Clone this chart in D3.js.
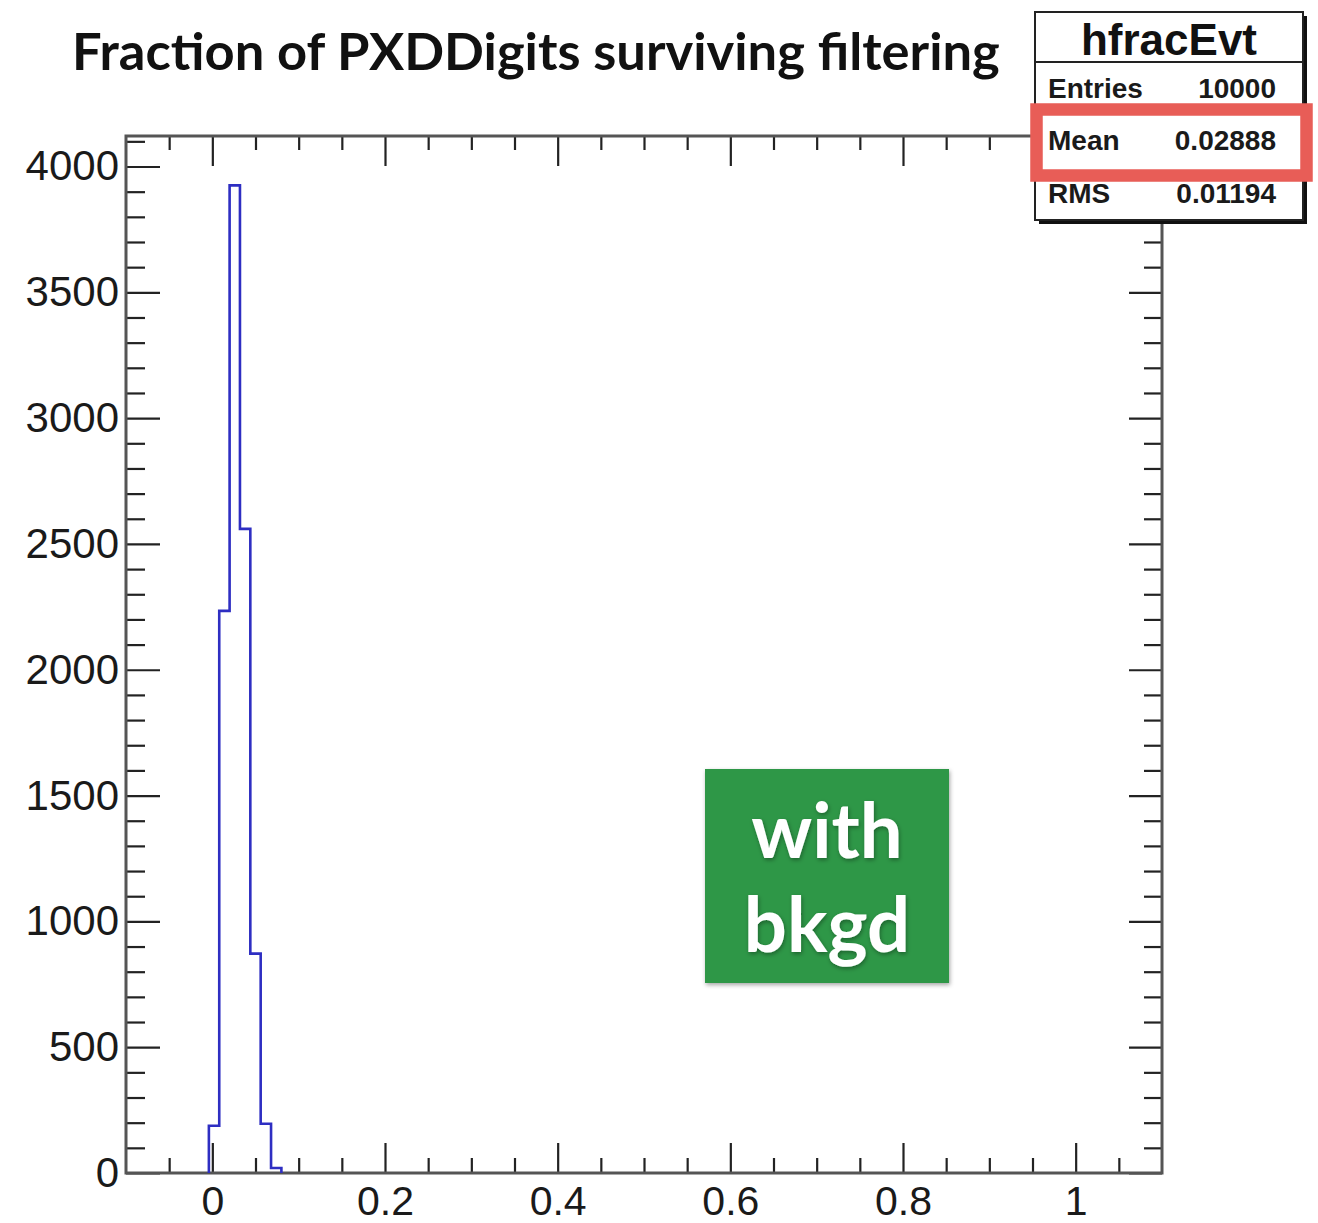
<!DOCTYPE html>
<html>
<head>
<meta charset="utf-8">
<script src="https://cdn.jsdelivr.net/npm/d3@7"></script>
<style>
  body { margin: 0; background: #fff; }
  text { font-family: "Liberation Sans", Arial, sans-serif; }
</style>
</head>
<body>
<div id="chart-area"></div>
<script>
// histogram data (bins of width 0.012 on [-0.1, 1.1])
const binEdges = [-0.004, 0.008, 0.020, 0.032, 0.044, 0.056, 0.068, 0.080];
const binCounts = [188, 2234, 3925, 2560, 872, 196, 20];

const xMajor = [0, 0.2, 0.4, 0.6, 0.8, 1];
const xMinor = [-0.05, 0.05, 0.1, 0.15, 0.25, 0.3, 0.35, 0.45, 0.5, 0.55, 0.65, 0.7, 0.75, 0.85, 0.9, 0.95, 1.05];
const yMajor = [0, 500, 1000, 1500, 2000, 2500, 3000, 3500, 4000];
const yMinor = d3.range(100, 4200, 100).filter(v => v % 500 !== 0);

const statsTitle = "hfracEvt";
const statsLabels = ["Entries", "Mean", "RMS"];
const statsValues = ["10000", "0.02888", "0.01194"];
const chartTitle = "Fraction of PXDDigits surviving filtering";
const badgeLines = ["with", "bkgd"];

const W = 1318, H = 1223;
const frame = {left: 126, right: 1162, top: 136, bottom: 1173};

const svg = d3.select('#chart-area')
  .append('svg')
  .attr('width', W)
  .attr('height', H);

// scales
const x = d3.scaleLinear().domain([-0.1, 1.1]).range([frame.left, frame.right]);
const y = d3.scaleLinear().domain([0, d3.max(binCounts) * 1.05]).range([frame.bottom, frame.top]);

// axes helper
function addAxis(axis, tx, ty, cls) {
  const g = svg.append('g')
    .attr('class', cls)
    .attr('transform', `translate(${tx}, ${ty})`)
    .call(axis);
  g.select('.domain').remove();
  g.selectAll('line').attr('stroke', '#222').attr('stroke-width', 2.2);
  return g;
}

// bottom
const xb = addAxis(d3.axisBottom(x).tickValues(xMajor).tickSize(-30).tickPadding(13)
    .tickFormat(d => String(d)), 0, frame.bottom, 'x-axis');
xb.selectAll('text').attr('font-size', 41).attr('fill', '#1a1a1a');
addAxis(d3.axisBottom(x).tickValues(xMinor).tickSize(-15).tickFormat(''), 0, frame.bottom, 'x-minor');
// top
addAxis(d3.axisTop(x).tickValues(xMajor).tickSize(-30).tickFormat(''), 0, frame.top, 'x-top');
addAxis(d3.axisTop(x).tickValues(xMinor).tickSize(-14).tickFormat(''), 0, frame.top, 'x-top-minor');
// left
const yl = addAxis(d3.axisLeft(y).tickValues(yMajor).tickSize(-34).tickPadding(7)
    .tickFormat(d3.format('d')), frame.left, 0, 'y-axis');
yl.selectAll('text').attr('font-size', 42).attr('fill', '#1a1a1a');
addAxis(d3.axisLeft(y).tickValues(yMinor).tickSize(-19).tickFormat(''), frame.left, 0, 'y-minor');
// right
addAxis(d3.axisRight(y).tickValues(yMajor).tickSize(-33).tickFormat(''), frame.right, 0, 'y-right');
addAxis(d3.axisRight(y).tickValues(yMinor).tickSize(-18).tickFormat(''), frame.right, 0, 'y-right-minor');

// frame
svg.append('rect')
  .attr('x', frame.left).attr('y', frame.top)
  .attr('width', frame.right - frame.left).attr('height', frame.bottom - frame.top)
  .attr('fill', 'none').attr('stroke', '#555').attr('stroke-width', 3);

// histogram outline
const pts = [[binEdges[0], 0]];
binCounts.forEach((c, i) => { pts.push([binEdges[i], c]); pts.push([binEdges[i + 1], c]); });
pts.push([binEdges[binEdges.length - 1], 0]);
svg.append('path')
  .attr('d', d3.line().x(d => x(d[0])).y(d => y(d[1]))(pts))
  .attr('fill', 'none')
  .attr('stroke', '#2e2ec2')
  .attr('stroke-width', 2.6);

// title
const title = svg.append('text')
  .attr('x', 72).attr('y', 70)
  .style('font-family', 'Lato, "Open Sans", sans-serif')
  .attr('font-weight', 'bold')
  .attr('font-size', 54)
  .attr('fill', '#111')
  .text(chartTitle);
const tl = title.node().getComputedTextLength();
title.attr('font-size', 54 * 928 / tl);

// stats box
const sb = {x: 1035, y: 12, w: 268, h: 208};
svg.append('path')
  .attr('d', `M${sb.x + 4},${sb.y + sb.h + 2.5}H${sb.x + sb.w + 2.5}V${sb.y + 4}`)
  .attr('fill', 'none').attr('stroke', '#111').attr('stroke-width', 3);
svg.append('rect')
  .attr('x', sb.x).attr('y', sb.y).attr('width', sb.w).attr('height', sb.h)
  .attr('fill', '#fff').attr('stroke', '#222').attr('stroke-width', 2);
svg.append('line')
  .attr('x1', sb.x).attr('x2', sb.x + sb.w).attr('y1', 62).attr('y2', 62)
  .attr('stroke', '#222').attr('stroke-width', 2);
svg.append('text')
  .attr('x', sb.x + sb.w / 2).attr('y', 55)
  .attr('text-anchor', 'middle').attr('font-weight', 'bold').attr('font-size', 44)
  .attr('fill', '#111').text(statsTitle);
const rowY = [98, 150, 203];
statsLabels.forEach((s, i) => {
  svg.append('text').attr('x', 1048).attr('y', rowY[i])
    .attr('font-weight', 'bold').attr('font-size', 28).attr('fill', '#1a1a1a').text(s);
  svg.append('text').attr('x', 1276).attr('y', rowY[i]).attr('text-anchor', 'end')
    .attr('font-weight', 'bold').attr('font-size', 28).attr('fill', '#1a1a1a').text(statsValues[i]);
});
// highlight
svg.append('rect')
  .attr('x', 1036.5).attr('y', 109.5).attr('width', 270).attr('height', 66)
  .attr('fill', 'none').attr('stroke', '#e85d57').attr('stroke-width', 12.5);

// green badge
const defs = svg.append('defs');
const f = defs.append('filter').attr('id', 'shadow').attr('x', '-10%').attr('y', '-10%').attr('width', '130%').attr('height', '130%');
f.append('feDropShadow').attr('dx', 1).attr('dy', 2).attr('stdDeviation', 2).attr('flood-color', '#000').attr('flood-opacity', 0.35);

svg.append('rect')
  .attr('x', 705).attr('y', 769).attr('width', 244).attr('height', 214)
  .attr('fill', '#2f9747')
  .attr('filter', 'url(#shadow)');
const badgeY = [858, 952];
badgeLines.forEach((t, i) => {
  svg.append('text')
    .attr('x', 827).attr('y', badgeY[i])
    .attr('text-anchor', 'middle')
    .style('font-family', 'Lato, "Open Sans", sans-serif')
    .attr('font-weight', 'bold').attr('font-size', 76)
    .attr('fill', '#fff')
    .attr('filter', 'url(#shadow)')
    .text(t);
});
</script>
</body>
</html>
